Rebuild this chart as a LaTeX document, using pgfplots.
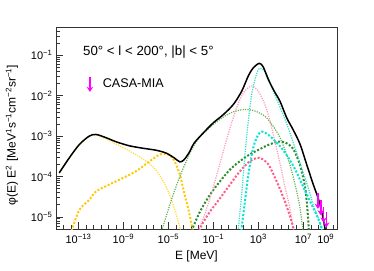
\documentclass[border=0pt]{standalone}
\usepackage{fontspec}
\setmainfont{Liberation Sans}
\usepackage{pgfplots}
\pgfplotsset{compat=1.18}
\usetikzlibrary{arrows.meta}
\definecolor{ythin}{HTML}{FFDD33}
\definecolor{ythick}{HTML}{FFC800}
\definecolor{gthin}{HTML}{66B055}
\definecolor{gthick}{HTML}{2E8B2E}
\definecolor{pthin}{HTML}{FF9AB5}
\definecolor{pthick}{HTML}{FF5A85}
\definecolor{cthin}{HTML}{30DCCB}
\definecolor{cthick}{HTML}{00E5D5}
\definecolor{mag}{RGB}{255,0,255}
\begin{document}
\begin{tikzpicture}
\useasboundingbox (-56pt,-41pt) rectangle (318pt,229pt);
\begin{axis}[
  at={(0,0)}, anchor=south west,
  width=281pt, height=202pt, scale only axis,
  xmin=-15, xmax=10, ymin=-5.3, ymax=-0.3,
  axis line style={black!80, line width=0.6pt},
  tick pos=left, tick align=inside,
  tick style={black!80, line width=0.5pt},
  major tick length=7pt, minor tick length=4pt,
  xtick={-13,-9,-5,-1,3,7,9},
  xticklabels={10\textsuperscript{−13},10\textsuperscript{−9},10\textsuperscript{−5},10\textsuperscript{−1},10\textsuperscript{3},10\textsuperscript{7},10\textsuperscript{9}},
  minor xtick={-15,-14.33333,...,10},
  ytick={-5,-4,-3,-2,-1},
  yticklabels={10\textsuperscript{−5},10\textsuperscript{−4},10\textsuperscript{−3},10\textsuperscript{−2},10\textsuperscript{−1}},
  minor ytick={-5.222,-5.155,-5.097,-5.046,
    -4.699,-4.523,-4.398,-4.301,-4.222,-4.155,-4.097,-4.046,
    -3.699,-3.523,-3.398,-3.301,-3.222,-3.155,-3.097,-3.046,
    -2.699,-2.523,-2.398,-2.301,-2.222,-2.155,-2.097,-2.046,
    -1.699,-1.523,-1.398,-1.301,-1.222,-1.155,-1.097,-1.046,
    -0.699,-0.523,-0.398,-0.301},
  xticklabel style={font=\fontsize{11}{13}\selectfont, yshift=-2pt},
  yticklabel style={font=\fontsize{11}{13}\selectfont},
  xlabel={E [MeV]},
  ylabel={φ(E) E\textsuperscript{2} [MeV\textsuperscript{1}s\textsuperscript{−1}cm\textsuperscript{−2}sr\textsuperscript{−1}]},
  xlabel style={font=\fontsize{12}{14}\selectfont, at={(axis description cs:0.5,-0.1337)}, anchor=center},
  ylabel style={font=\fontsize{12}{14}\selectfont, at={(axis description cs:-0.1566,0.465)}, anchor=center},
  legend style={at={(axis cs:-12.38,-1.72)}, anchor=west, draw=none, fill=none,
    font=\fontsize{12.6}{14}\selectfont, inner sep=1pt},
  legend cell align=left,
  thinp/.style={smooth, line width=1.2pt, dash pattern=on 1.2pt off 1.2pt, forget plot},
  thickp/.style={smooth, line width=2pt, dash pattern=on 2pt off 1.8pt, forget plot},
  ul/.style={mag, line width=1.6pt, -{Stealth[length=5pt,width=6.5pt]}, forget plot},
]
% yellow thin
\addplot[thinp, ythin] coordinates {
(-14.71,-3.92) (-13.82,-3.55) (-12.93,-3.22) (-12.04,-3.01) (-11.44,-2.97)
(-10.55,-3.07) (-9.66,-3.20) (-8.48,-3.37) (-7.29,-3.56) (-6.10,-3.84)
(-5.21,-4.25) (-4.62,-4.66) (-4.17,-5.07) (-3.90,-5.35)};
% yellow thick
\addplot[thickp, ythick] coordinates {
(-13.62,-5.35) (-12.93,-4.83) (-12.04,-4.58) (-11.44,-4.37) (-10.26,-4.20)
(-9.07,-4.04) (-7.88,-3.87) (-6.70,-3.63) (-5.81,-3.46) (-5.21,-3.44)
(-4.62,-3.54) (-4.03,-3.91) (-3.59,-4.41) (-3.14,-4.91) (-2.84,-5.35)};
% green thin
\addplot[thinp, gthin] coordinates {
(-5.60,-5.35) (-4.92,-4.74) (-4.32,-4.25) (-3.73,-3.83) (-3.14,-3.46)
(-2.70,-3.22) (-2.19,-3.02) (-1.60,-2.86) (-1.00,-2.71) (-0.12,-2.53)
(0.77,-2.40) (1.81,-2.34) (2.70,-2.38) (3.59,-2.51) (4.33,-2.76)
(4.93,-3.04) (5.53,-3.46) (5.97,-3.87) (6.41,-4.37) (6.71,-4.78) (6.97,-5.35)};
% green thick
\addplot[thickp, gthick] coordinates {
(-2.95,-5.35) (-2.19,-4.87) (-1.30,-4.45) (-0.41,-4.12) (0.48,-3.83)
(1.37,-3.62) (2.26,-3.45) (3.15,-3.32) (4.04,-3.20) (4.80,-3.14)
(5.40,-3.16) (6.11,-3.32) (6.71,-3.72) (7.15,-4.25) (7.35,-4.75) (7.50,-5.35)};
% pink thin
\addplot[thinp, pthin] coordinates {
(-2.35,-5.35) (-1.89,-5.03) (-1.30,-4.54) (-0.70,-3.96) (-0.12,-3.38)
(0.48,-2.80) (1.07,-2.30) (1.67,-1.93) (2.41,-1.76) (3.00,-1.89)
(3.59,-2.22) (4.04,-2.63) (4.48,-3.13) (4.93,-3.68) (5.37,-4.25)
(5.82,-4.80) (6.12,-5.35)};
% pink thick
\addplot[thickp, pthick] coordinates {
(-2.22,-5.35) (-2.04,-5.20) (-1.30,-4.87) (-0.41,-4.54) (0.48,-4.20)
(1.37,-3.87) (2.26,-3.62) (3.10,-3.54) (3.89,-3.70) (4.63,-4.12)
(5.37,-4.62) (5.97,-5.12) (6.17,-5.35)};
% cyan thin
\addplot[thinp, cthin] coordinates {
(1.20,-5.35) (1.52,-4.45) (1.81,-3.46) (2.11,-2.63) (2.41,-1.97)
(2.79,-1.51) (3.15,-1.32) (3.74,-1.47) (4.33,-1.89) (5.08,-2.38)
(5.67,-2.80) (6.26,-3.29) (6.86,-3.79) (7.45,-4.29) (7.89,-4.70)
(8.34,-5.03) (8.68,-5.35)};
% cyan thick
\addplot[thickp, cthick] coordinates {
(1.48,-5.35) (1.81,-4.62) (2.11,-3.96) (2.55,-3.29) (3.00,-2.96)
(3.35,-2.89) (3.89,-2.97) (4.48,-3.12) (5.08,-3.30) (5.82,-3.60)
(6.41,-3.90) (7.15,-4.35) (7.75,-4.70) (8.34,-5.05) (8.72,-5.35)};
% total
\addplot[smooth, black, line width=1.5pt, forget plot] coordinates {
(-14.71,-3.91) (-13.82,-3.54) (-12.93,-3.21) (-12.04,-3.00) (-11.44,-2.96)
(-10.55,-3.04) (-9.66,-3.14) (-8.48,-3.24) (-7.29,-3.30) (-6.10,-3.35)
(-5.21,-3.42) (-4.48,-3.54) (-3.97,-3.64) (-3.59,-3.58) (-3.14,-3.40)
(-2.70,-3.17) (-1.89,-2.92) (-1.00,-2.67) (-0.12,-2.47) (0.77,-2.22)
(1.52,-1.89) (2.11,-1.51) (2.55,-1.31) (3.09,-1.20) (3.44,-1.29)
(3.89,-1.60) (4.40,-1.88) (4.93,-2.14) (5.53,-2.55) (6.11,-2.85)
(6.71,-3.20) (7.30,-3.70) (7.89,-4.20) (8.34,-4.55) (8.70,-4.95) (8.95,-5.32)};
% CASA-MIA upper limits
\addplot[ul] coordinates {(8.30,-4.42) (8.30,-4.80)};
\addplot[ul] coordinates {(8.55,-4.58) (8.55,-4.96)};
\addplot[ul] coordinates {(8.80,-4.76) (8.80,-5.14)};
\addplot[ul, forget plot=false,
  legend image code/.code={\path[draw=none,fill=none,-] (0,0) rectangle (14pt,0.1pt);\draw[mag, line width=1.6pt, -{Stealth[length=5pt,width=6.5pt]}] (3pt,7pt) -- (3pt,-8pt);}]
  coordinates {(9.05,-4.88) (9.05,-5.26)};
\addlegendentry{CASA-MIA}
\node[anchor=west, font=\fontsize{13.3}{15}\selectfont, inner sep=0pt] at (axis cs:-12.6,-0.925) {50° < l < 200°, |b| < 5°};
\end{axis}
\end{tikzpicture}
\end{document}
